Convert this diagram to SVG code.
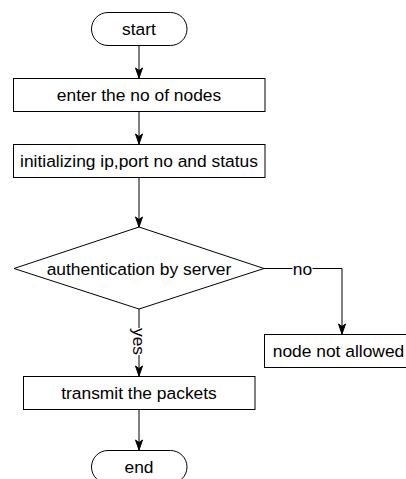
<svg xmlns="http://www.w3.org/2000/svg" width="406" height="479" viewBox="0 0 406 479">
<defs>
<style>
.shape{fill:#fff;stroke:#000;stroke-width:1}
.edge{fill:none;stroke:#000;stroke-width:1}
text{font-family:"Liberation Sans",Arial,sans-serif;font-size:17.4px;fill:#000;text-anchor:middle;dominant-baseline:central}
.lblbg{fill:#fff;stroke:none}
</style>
<marker id="arr" markerUnits="userSpaceOnUse" markerWidth="12" markerHeight="10" viewBox="0 0 12 10" refX="11" refY="5" orient="auto">
<path d="M1,1.5 L11,5 L1,8.5 L3.5,5 Z" fill="#000" stroke="#000" stroke-width="1"/>
</marker>
</defs>
<rect width="406" height="479" fill="#fff"/>
<g id="connectors">
<path class="edge" d="M139,45 L139,78" marker-end="url(#arr)"/>
<path class="edge" d="M139,111 L139,144" marker-end="url(#arr)"/>
<path class="edge" d="M139,177 L139,227" marker-end="url(#arr)"/>
<path class="edge" d="M264,268.5 L342,268.5 L342,334" marker-end="url(#arr)"/>
<path class="edge" d="M139,309 L139,376" marker-end="url(#arr)"/>
<path class="edge" d="M139,409 L139,450" marker-end="url(#arr)"/>
<rect class="lblbg" x="292.5" y="260" width="20" height="17"/>
<text x="302.5" y="268.5">no</text>
<rect class="lblbg" x="131" y="328" width="16" height="27"/>
<text x="139" y="341.5" transform="rotate(90 139 341.5)">yes</text>
</g>
<g id="start">
<rect class="shape" x="91.5" y="12.5" width="95.5" height="33" rx="16.5" ry="16.5"/>
<text x="139" y="29">start</text>
</g>
<g id="enter">
<rect class="shape" x="13.5" y="78.5" width="251.5" height="33"/>
<text x="139" y="95">enter the no of nodes</text>
</g>
<g id="init">
<rect class="shape" x="13.5" y="144.5" width="251.5" height="33"/>
<text x="139" y="161">initializing ip,port no and status</text>
</g>
<g id="auth">
<path class="shape" d="M139,227 L264,268.5 L139,309 L14,268.5 Z"/>
<text x="139" y="268.5">authentication by server</text>
</g>
<g id="notallowed">
<rect class="shape" x="264.5" y="334.5" width="156" height="33"/>
<text x="338.5" y="351">node not allowed</text>
</g>
<g id="transmit">
<rect class="shape" x="23.5" y="376.5" width="231.5" height="33"/>
<text x="139" y="393">transmit the packets</text>
</g>
<g id="end">
<rect class="shape" x="91.5" y="450.5" width="95.5" height="33" rx="16.5" ry="16.5"/>
<text x="139" y="467">end</text>
</g>
</svg>
